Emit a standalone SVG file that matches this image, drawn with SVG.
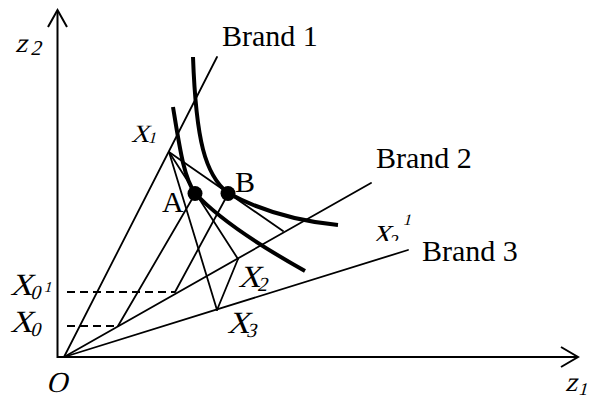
<svg xmlns="http://www.w3.org/2000/svg" width="591" height="399" viewBox="0 0 591 399">
<style>
.ln{stroke:#000;stroke-width:1.8;fill:none;stroke-linecap:round}
.ax{stroke:#000;stroke-width:2;fill:none}
.cv{stroke:#000;stroke-width:4;fill:none}
.ds{stroke:#000;stroke-width:1.8;fill:none;stroke-dasharray:8 5}
.t{font-family:"Liberation Serif","Times New Roman",serif;fill:#000}
</style>
<defs>
<clipPath id="cl"><rect x="-20" y="-30" width="60" height="28"/></clipPath>
</defs>
<g id="axes">
<line class="ax" x1="57.5" y1="358" x2="57.5" y2="11"/>
<polyline class="ax" points="48,27 57.5,10 67,27"/>
<line class="ax" x1="57" y1="357" x2="577" y2="357"/>
<polyline class="ax" points="561,347 578,357 561,367"/>
</g>
<g id="connectors">
<line class="ln" x1="64" y1="357" x2="217" y2="57"/>
<line class="ln" x1="64" y1="357" x2="371" y2="183"/>
<line class="ln" x1="64" y1="357" x2="408" y2="250"/>
<line class="ln" x1="169" y1="152" x2="283" y2="231"/>
<line class="ln" x1="169" y1="152" x2="238" y2="259"/>
<line class="ln" x1="169" y1="152" x2="217" y2="310"/>
<line class="ln" x1="238" y1="259" x2="217" y2="310"/>
<line class="ln" x1="118" y1="326" x2="195" y2="194"/>
<line class="ln" x1="175" y1="292" x2="228" y2="194"/>
<line class="ds" x1="67" y1="326" x2="118" y2="326"/>
<line class="ds" x1="67" y1="292" x2="175" y2="292"/>
</g>
<g id="curves">
<path class="cv" d="M173,107 C180,150 184,178 195,193 C215,215 255,243 305,271"/>
<path class="cv" d="M193,57 C196,140 205,175 228,193 C250,205 285,220 338,225"/>
</g>
<g id="pointA"><circle cx="195" cy="193.5" r="7.5"/><text class="t" x="162" y="212" font-size="30">A</text></g>
<g id="pointB"><circle cx="228" cy="193.5" r="7.5"/><text class="t" x="235" y="192" font-size="30">B</text></g>
<g id="brand1"><text class="t" x="222" y="46" font-size="30">Brand 1</text></g>
<g id="brand2"><text class="t" x="376" y="168" font-size="30">Brand 2</text></g>
<g id="brand3"><text class="t" x="422" y="261" font-size="30">Brand 3</text></g>
<g id="labels">
<g transform="translate(15,52) skewX(-15)"><text class="t" font-size="27">z</text><text class="t" x="16" y="3" font-size="21">2</text></g>
<g transform="translate(565,391) skewX(-15)"><text class="t" font-size="27">z</text><text class="t" x="14" y="4" font-size="18">1</text></g>
<g transform="translate(46,392) skewX(-15)"><text class="t" font-size="29">O</text></g>
<g transform="translate(131,142) skewX(-15)"><text class="t" font-size="25">X</text><text class="t" x="17" y="1" font-size="16">1</text></g>
<g transform="translate(10,295) skewX(-15)"><text class="t" font-size="31">X</text><text class="t" x="21" y="4" font-size="20">0</text><text class="t" x="33" y="-3" font-size="15">1</text></g>
<g transform="translate(10,332) skewX(-15)"><text class="t" font-size="31">X</text><text class="t" x="21" y="4" font-size="20">0</text></g>
<g transform="translate(238,287) skewX(-15)"><text class="t" font-size="31">X</text><text class="t" x="20" y="4" font-size="20">2</text></g>
<g transform="translate(227,333) skewX(-15)"><text class="t" font-size="31">X</text><text class="t" x="20" y="4" font-size="20">3</text></g>
<g transform="translate(372,243) skewX(-15)"><g clip-path="url(#cl)"><text class="t" font-size="26">X</text><text class="t" x="17" y="4" font-size="18">2</text></g><text class="t" x="26" y="-18" font-size="16">1</text></g>
</g>
</svg>
